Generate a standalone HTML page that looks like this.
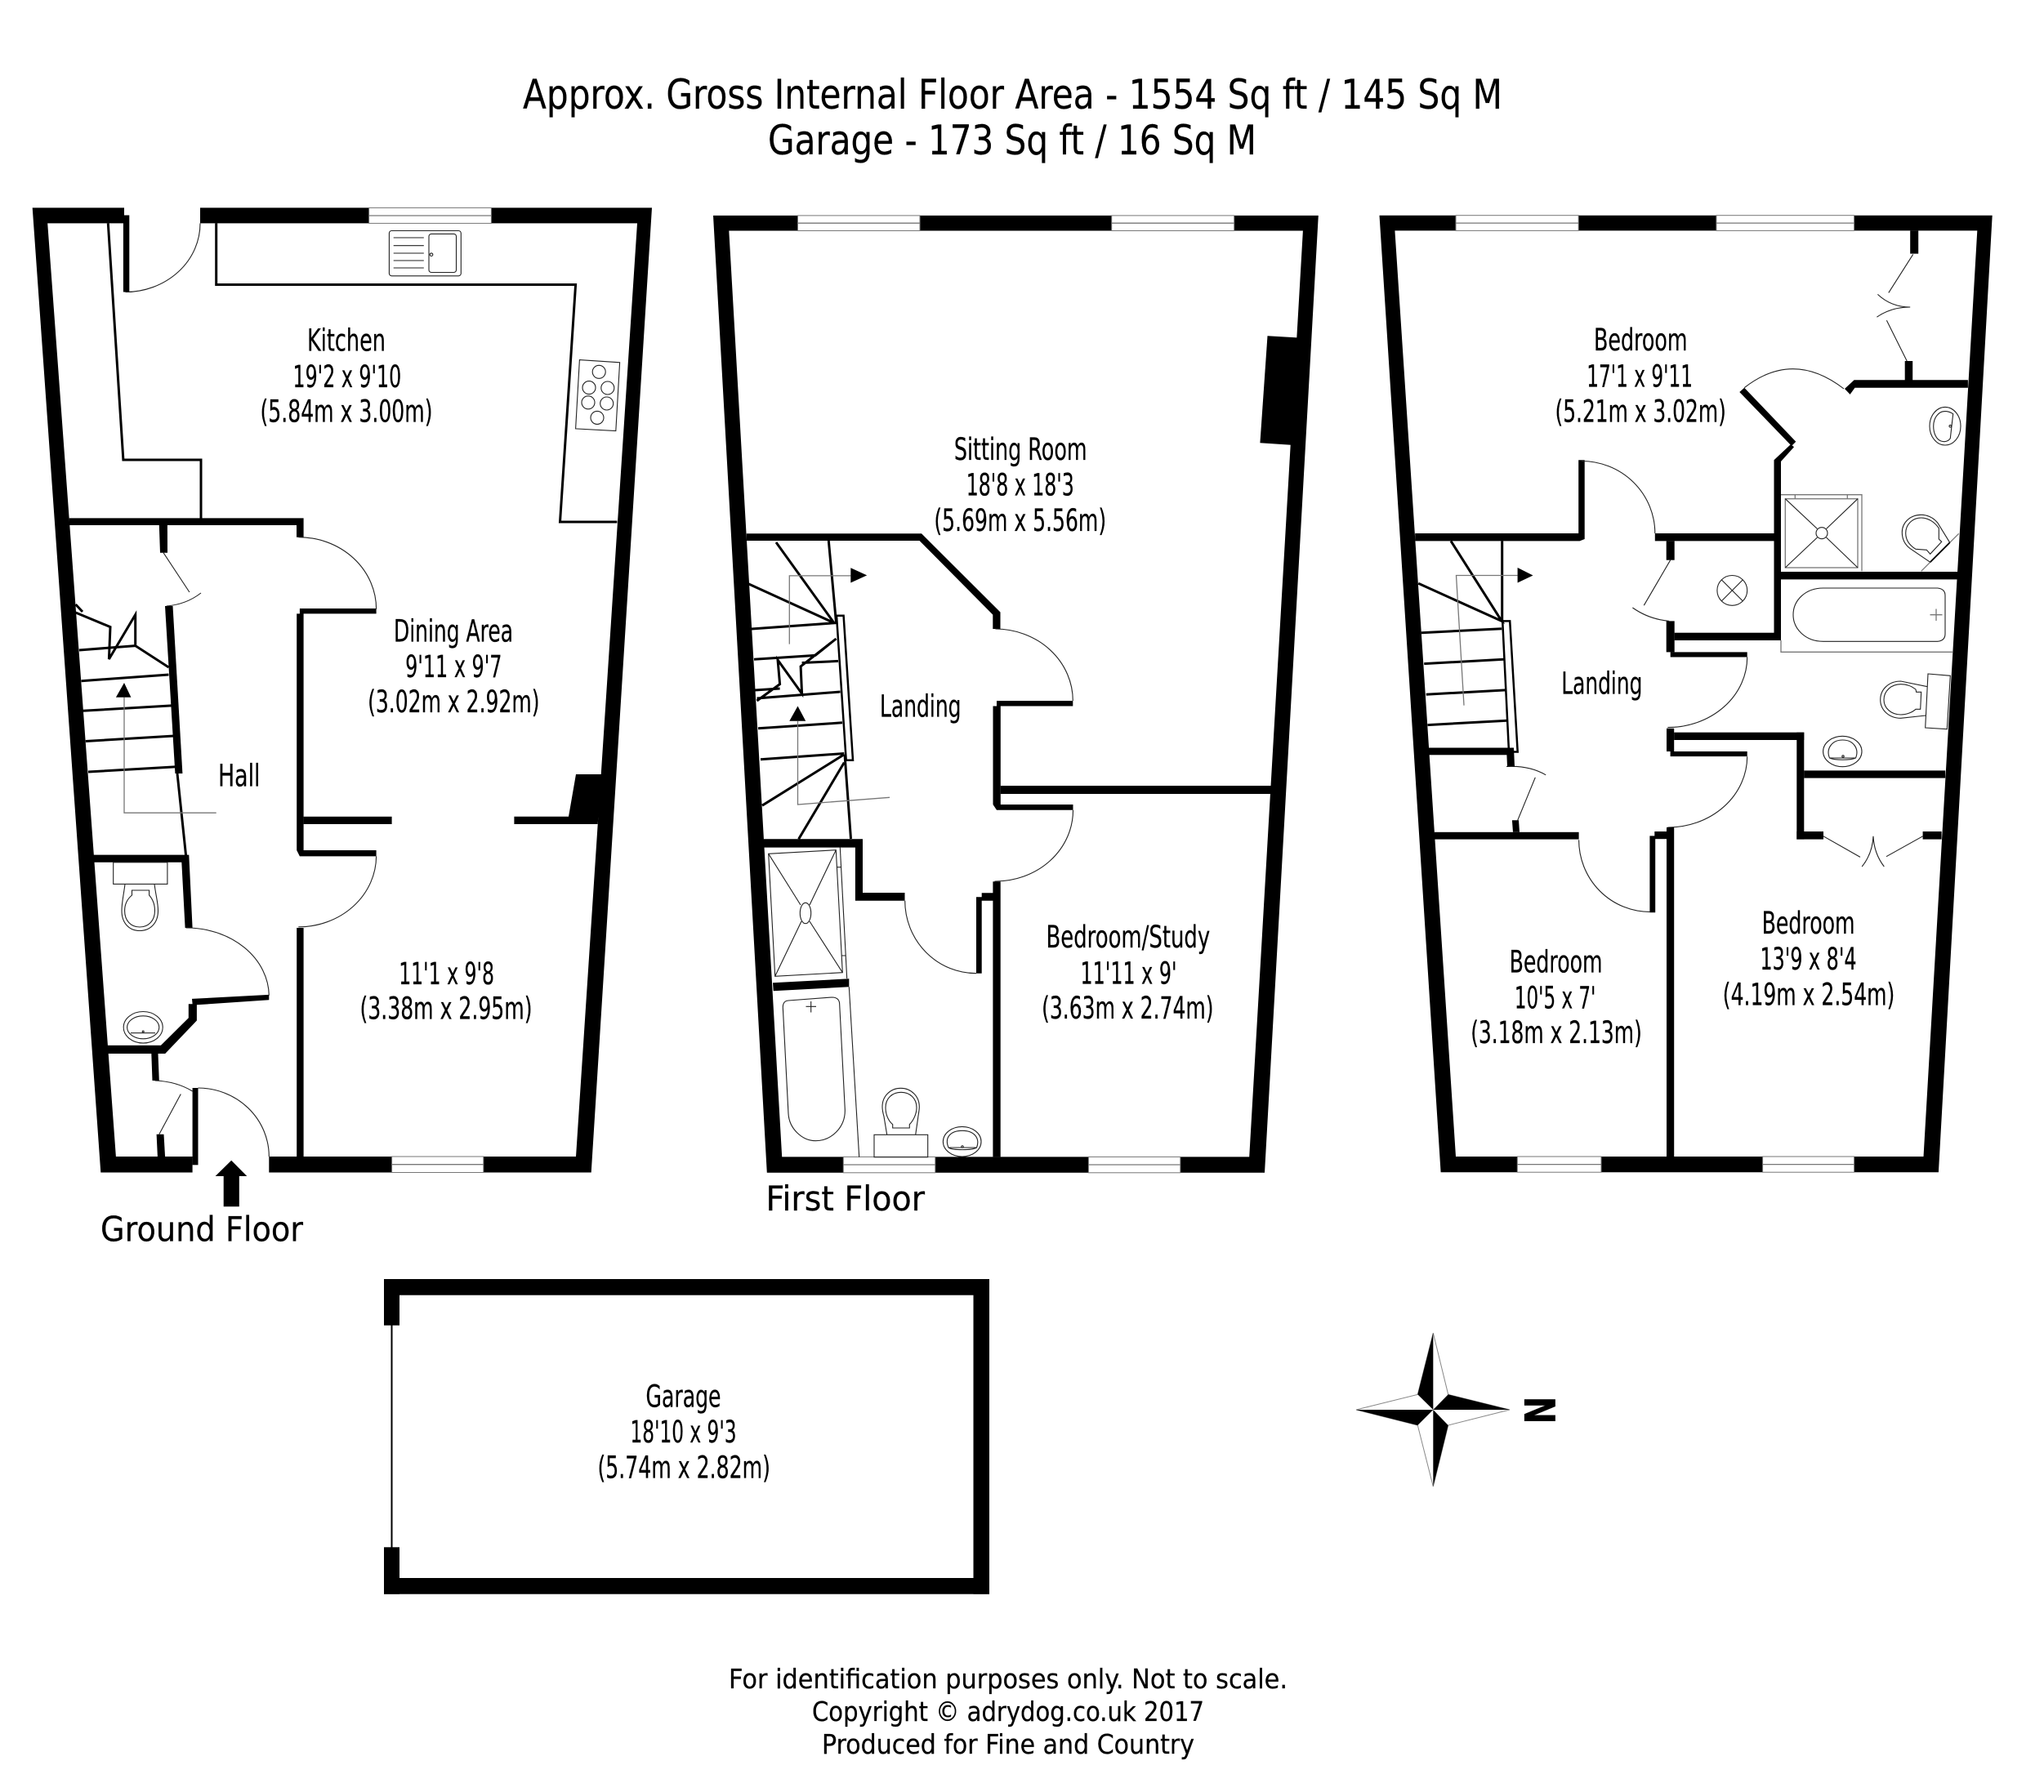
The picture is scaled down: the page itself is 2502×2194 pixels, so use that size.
<!DOCTYPE html>
<html lang="en">
<head>
<meta charset="utf-8">
<title>Floor plan</title>
<style>
html,body{margin:0;padding:0;background:#fff}
svg{display:block}
text{font-family:"DejaVu Sans","Liberation Sans",sans-serif;fill:#000;stroke:#000;stroke-width:.25}
.r{font-size:37px}
.f{font-size:42px}
.h{font-size:50px}
.c{font-size:33px}
.l3{fill:none;stroke:#000;stroke-width:3}
.l4{fill:none;stroke:#000;stroke-width:4}
.t{fill:none;stroke:#222;stroke-width:1.1}
.g{fill:none;stroke:#777;stroke-width:1.3}
.win{fill:#fff;stroke:#777;stroke-width:1}
</style>
</head>
<body>
<svg xmlns="http://www.w3.org/2000/svg" width="2502" height="2194" viewBox="0 0 2502 2194">
<rect width="2502" height="2194" fill="#fff"/>

<!-- Title -->
<text class="h" x="640" y="133" textLength="1199" lengthAdjust="spacingAndGlyphs">Approx. Gross Internal Floor Area - 1554 Sq ft / 145 Sq M</text>
<text class="h" x="940" y="189" textLength="598" lengthAdjust="spacingAndGlyphs">Garage - 173 Sq ft / 16 Sq M</text>

<!-- GROUND FLOOR -->
<g>
<polygon points="39.7,254.4 123.3,1435.5 235.6,1435.5 235.6,1416 141.9,1416 58.2,273.4 152,273.4 152,254.4"/>
<polygon points="245,254.4 798,254.4 723.7,1435.5 329.3,1435.5 329.3,1416 705,1416 780,273.4 245,273.4"/>
<rect class="win" x="451.6" y="254.4" width="149.8" height="19"/><path class="g" d="M451.6 264H601.4"/>
<rect class="win" x="479.6" y="1416" width="112.2" height="19.5"/><path class="g" d="M479.6 1425.7H591.8"/>
<rect x="150.9" y="263.5" width="7.4" height="94"/>
<!-- cross walls -->
<polygon points="84.7,634.4 371.6,634.4 371.6,657.7 363,657.7 363,643 84.7,643"/>
<polygon points="366.9,745 460.6,745 460.6,751.4 371.6,751.4 371.6,1041 460.6,1041 460.6,1048.4 366.9,1048.4 363.2,1041 363.2,751.4 366.9,751.4"/>
<rect x="371.6" y="999.8" width="108" height="9.2"/>
<polygon points="705,948 738,948 731.6,1009 629.4,1009 629.4,999.8 696,999.8"/>
<rect x="363.2" y="1136" width="8.4" height="280"/>
<polygon points="194.8,643 204.9,643 205,676.7 196,676.7"/>
<polygon points="202,742 211.5,742 223.4,947 214.4,947"/>
<polygon points="113.8,1046.6 231.3,1046.6 235.6,1136 226.6,1136 222.3,1055.8 113.8,1055.8"/>
<polygon points="329.3,1217.9 235,1222.9 235.6,1229.3 230.8,1229.3 230.8,1246.3 196.9,1279.9 131.3,1279.9 132.3,1290 202.2,1290 240.9,1249.5 240.9,1230.3 329.3,1224.3"/>
<polygon points="185.3,1290 193.5,1290 194.8,1323 186.5,1323"/>
<polygon points="191.6,1388.7 200.5,1388.7 202.2,1418.5 193,1418.5"/>
<rect x="235.6" y="1332" width="6.9" height="94.3"/>
<!-- arrow -->
<polygon points="283.2,1420.8 263.6,1440 273.7,1440 273.7,1477.3 292.8,1477.3 292.8,1440 302.3,1440"/>
<!-- kitchen counter -->
<path class="l3" d="M132.3 273.4L150.9 563H246V635"/>
<path class="l3" d="M264.7 273.4V348.5H704.6L685.5 639H755.4"/>
<path class="l3" d="M217 947L227.6 1047.5"/>
<!-- doors -->
<path class="t" d="M245 273.4A92 84 0 0 1 153.5 357.6"/>
<path class="t" d="M365.3 657.7A95 88 0 0 1 460.6 745.9"/>
<path class="t" d="M460.6 1048.4A95 87 0 0 1 365.3 1134.8"/>
<path class="t" d="M227.6 1136A101 84 0 0 1 329.3 1218.8"/>
<path class="t" d="M242.5 1332A87 84 0 0 1 329.3 1416"/>
<path class="t" d="M200 676.7L231.9 725M246 726Q228 740 203.8 742"/>
<path class="t" d="M189.5 1323Q216 1324 235.6 1336M221.3 1339.5L194.8 1388.7"/>
<!-- sink -->
<rect class="t" x="476.4" y="282.5" width="87.9" height="55.3" rx="3"/>
<rect class="t" x="525" y="286.4" width="33.5" height="47.1" rx="3"/>
<path class="t" d="M481.7 291H518.8M481.7 300.7H518.8M481.7 310H518.8M481.7 319H518.8M481.7 328H518.8"/>
<circle class="t" cx="528" cy="311.7" r="1.8"/>
<!-- hob -->
<polygon class="t" points="709.4,440.6 758.6,443.8 753.8,527.6 704.6,524.9"/>
<circle class="t" cx="733.2" cy="455.3" r="8"/><circle class="t" cx="721" cy="474.6" r="8"/><circle class="t" cx="743.8" cy="475" r="8"/>
<circle class="t" cx="720" cy="492.8" r="8"/><circle class="t" cx="742.7" cy="494" r="8"/><circle class="t" cx="731" cy="511.4" r="8"/>
<!-- stairs -->
<path class="l3" d="M101.6 870.3L210.2 863.9M104.8 907.5L212.8 901M108 945L216 938.7M99.5 833.7L206.5 826M96.9 796L165.7 790.6"/>
<path class="l3" d="M92.6 740L101 749M92.6 750L135 767.6L133.4 807L165.7 752.6V790.6L206.5 817"/>
<path class="g" d="M264.7 995.2H152V853.8"/>
<polygon points="152,836 141.9,853.8 160.4,853.8"/>
<!-- WC -->
<rect class="t" x="138.7" y="1055.8" width="66.2" height="26.6"/>
<path class="t" d="M153 1082.4C151 1098 149 1105 149 1115C149 1130 158 1139.5 171 1139.5C184 1139.5 193.5 1130 193.5 1115C193.5 1105 191 1098 189 1082.4"/>
<path class="t" d="M161.5 1096V1090H182.6V1096C187 1101 189.5 1107 189.5 1115C189.5 1127 182 1135 171 1135C160 1135 152.6 1127 152.6 1115C152.6 1107 155.5 1101 161.5 1096Z"/>
<ellipse class="t" cx="175.2" cy="1257.8" rx="24" ry="19.3"/>
<ellipse class="t" cx="175.2" cy="1257.8" rx="19.6" ry="14"/>
<path class="t" d="M160 1264.7H190"/><circle class="t" cx="175.2" cy="1263" r="1"/>
<!-- labels -->
<text class="r" x="376" y="429.6" textLength="96" lengthAdjust="spacingAndGlyphs">Kitchen</text>
<text class="r" x="358.5" y="473.9" textLength="132.700" lengthAdjust="spacingAndGlyphs">19'2 x 9'10</text>
<text class="r" x="318.5" y="516.6" textLength="211" lengthAdjust="spacingAndGlyphs">(5.84m x 3.00m)</text>
<text class="r" x="482" y="785.4" textLength="146" lengthAdjust="spacingAndGlyphs">Dining Area</text>
<text class="r" x="496.1" y="829" textLength="118.4" lengthAdjust="spacingAndGlyphs">9'11 x 9'7</text>
<text class="r" x="450.1" y="872" textLength="210.4" lengthAdjust="spacingAndGlyphs">(3.02m x 2.92m)</text>
<text class="r" x="267" y="962.6" textLength="51.5" lengthAdjust="spacingAndGlyphs">Hall</text>
<text class="r" x="488.2" y="1205" textLength="116.8" lengthAdjust="spacingAndGlyphs">11'1 x 9'8</text>
<text class="r" x="440.5" y="1247.7" textLength="211" lengthAdjust="spacingAndGlyphs">(3.38m x 2.95m)</text>
<text class="f" x="123" y="1519.5" textLength="248" lengthAdjust="spacingAndGlyphs">Ground Floor</text>
</g>

<!-- FIRST FLOOR -->
<g>
<path fill-rule="evenodd" d="M873 263.9H1613.8L1548 1435.8H938.8ZM892.3 282.5L957.2 1416.4H1529.2L1594.9 282.5Z"/>
<rect class="win" x="976.5" y="263.9" width="149.5" height="18.6"/><path class="g" d="M976.5 273.2H1126"/>
<rect class="win" x="1360.7" y="263.9" width="150" height="18.6"/><path class="g" d="M1360.7 273.2H1510.7"/>
<rect class="win" x="1032.3" y="1416.4" width="112.5" height="19.4"/><path class="g" d="M1032.3 1426H1144.8"/>
<rect class="win" x="1332.4" y="1416.4" width="112.4" height="19.4"/><path class="g" d="M1332.4 1426H1444.8"/>
<polygon points="1551.5,411.3 1590,413.5 1582,544.9 1542.4,542.3"/>
<polygon points="913.8,653.3 1128,653.3 1224.5,749.5 1224.5,770 1215.3,770 1215.3,752.6 1125.5,662 913.8,662"/>
<polygon points="1220,858 1313.3,858 1313.3,864.5 1224.8,864.5 1224.8,985 1313.5,985 1313.5,991.7 1220,991.7 1215.5,985 1215.5,864.5 1220,864.5"/>
<rect x="1224.8" y="962" width="331" height="10"/>
<rect x="1215.4" y="1079.3" width="9.3" height="337.1"/>
<polygon points="1195,1098.3 1201.7,1098.3 1201.7,1093.3 1216,1093.3 1216,1102.7 1201.7,1102.7 1201.7,1191.7 1195,1191.7"/>
<polygon points="934.9,1027.3 1056,1027.3 1056,1093 1107.5,1093 1107.5,1102.7 1046.9,1102.7 1046.9,1037.6 934.9,1037.6"/>
<polygon points="946,1203.3 1039.3,1198.3 1039.3,1208.3 946.7,1213.3"/>
<!-- doors -->
<path class="t" d="M1218.4 770A95 88 0 0 1 1313.3 858"/>
<path class="t" d="M1313.5 991.7A95 87 0 0 1 1217.5 1079"/>
<path class="t" d="M1195 1191.7A87 89 0 0 1 1107.7 1102.7"/>
<!-- stairs -->
<path class="l3" d="M1014.3 662L1023.5 762M1034 923.7L1041.5 1027"/>
<path class="l3" d="M950 664L1020.9 762.6M916.3 714.9L1020.9 762.6M919.9 770L1023.5 762.6M923 807.2L998 802.4L1023.5 782L980.1 815.9L981.6 849.3L952 808L954.6 837.6L926.5 858M981.6 811.5L1026 809.4M924 845L954.6 843M926.5 855L1028.6 847M928 891.8L1031 884.8M931 929.7L1033.3 922.5M933 986.2L1033.3 923.7M977.6 1027.3L1033.3 933.6"/>
<path fill="none" stroke="#000" stroke-width="2.5" d="M1024 753.8H1032.6L1044 930.8H1035.7Z"/>
<path class="g" d="M966.3 788.6V704.9H1041.3"/>
<polygon points="1041.3,695.3 1041.3,713.5 1061.2,704.4"/>
<polygon points="976.5,864.5 966.3,882.7 986.2,882.7"/>
<path class="g" d="M976.5 882.7V985L1089 976.3"/>
<!-- shower -->
<path class="t" d="M1028.3 1037.3L1036.7 1198"/>
<polygon class="t" points="940.7,1045.3 1023.3,1040.7 1031.3,1190.7 948.7,1195.3"/>
<ellipse class="t" cx="986" cy="1118" rx="6.7" ry="12.7"/>
<path class="t" d="M940.7 1045.3L980 1108M1023.3 1040.7L991 1108M1031.3 1190.7L991 1128M948.7 1195.3L981 1128"/>
<path class="t" d="M1024 1061.7H1029M1030 1170H1035"/>
<!-- bath -->
<path class="t" d="M1039.3 1208.3L1051.7 1416.7"/>
<path class="t" d="M958.3 1233.3Q958.3 1225.5 965 1225L1018.3 1221Q1027.700 1221 1027.700 1230L1034.3 1358.3C1035 1380 1018 1396.700 998.3 1396.700C982 1396.700 966 1382 965 1363.3Z"/>
<path class="t" d="M986.500 1232.300H999M992.700 1226V1239.500"/>
<!-- wc -->
<rect class="t" x="1070" y="1389.300" width="65.700" height="27.400"/>
<path class="t" d="M1085.700 1389.300L1082 1367C1080 1360 1080 1355 1080 1355C1080 1342 1090 1332.300 1102.600 1332.300C1115 1332.300 1125.300 1342 1125.300 1355C1125.300 1360 1124 1365 1123.500 1370L1120.700 1389.300"/>
<path class="t" d="M1092.700 1381V1376.700C1087 1372 1084 1364 1084 1356C1084 1345 1092 1337.300 1103 1337.300C1114 1337.300 1122 1345 1122 1356C1122 1364 1118 1372 1113.300 1376.700V1381Z"/>
<ellipse class="t" cx="1177.700" cy="1397.700" rx="23.300" ry="18.300"/>
<path class="t" d="M1161 1405C1156 1393 1163 1384.300 1178 1384.300C1192 1384.300 1200 1393 1195.500 1405C1190 1408.500 1166 1408.500 1161 1405Z"/>
<path class="t" d="M1161 1405H1195.500"/>
<circle class="t" cx="1178" cy="1404" r="1.200"/>
<!-- labels -->
<text class="r" x="1167.900" y="563" textLength="162.700" lengthAdjust="spacingAndGlyphs">Sitting Room</text>
<text class="r" x="1182.700" y="606.400" textLength="132.100" lengthAdjust="spacingAndGlyphs">18'8 x 18'3</text>
<text class="r" x="1143.400" y="649.800" textLength="210.700" lengthAdjust="spacingAndGlyphs">(5.69m x 5.56m)</text>
<text class="r" x="1077" y="877.500" textLength="99.500" lengthAdjust="spacingAndGlyphs">Landing</text>
<text class="r" x="1280.500" y="1160" textLength="200.700" lengthAdjust="spacingAndGlyphs">Bedroom/Study</text>
<text class="r" x="1322.500" y="1204.500" textLength="118" lengthAdjust="spacingAndGlyphs">11'11 x 9'</text>
<text class="r" x="1275.100" y="1247" textLength="210.400" lengthAdjust="spacingAndGlyphs">(3.63m x 2.74m)</text>
<text class="f" x="937.500" y="1482" textLength="194.500" lengthAdjust="spacingAndGlyphs">First Floor</text>
</g>

<!-- SECOND FLOOR -->
<g>
<path fill-rule="evenodd" d="M1688.500 263.700H2438.700L2372.900 1435.200H1763.600ZM1707.400 282.400L1782 1416H2354.500L2420.300 282.400Z"/>
<rect class="win" x="1782" y="263.700" width="150.200" height="18.700"/><path class="g" d="M1782 273.100H1932.200"/>
<rect class="win" x="2100.900" y="263.700" width="168.700" height="18.700"/><path class="g" d="M2100.900 273.100H2269.600"/>
<rect class="win" x="1857.300" y="1416" width="102.700" height="19.200"/><path class="g" d="M1857.300 1425.600H1960"/>
<rect class="win" x="2157.600" y="1416" width="112" height="19.200"/><path class="g" d="M2157.600 1425.600H2269.600"/>
<!-- wardrobe -->
<rect x="2338.200" y="282.400" width="10" height="28.200"/>
<rect x="2331.700" y="442" width="9.500" height="25"/>
<path class="t" d="M2341.700 311.400L2311.800 358.400M2298.400 360.400Q2315 376 2338.200 376Q2315 376 2297.400 388.200M2309.400 392.200L2334.200 442"/>
<!-- en-suite -->
<polygon points="2269.600,465.300 2408.900,465.300 2408.900,474.700 2270.500,474.700 2264.600,482.900 2258,476"/>
<path class="t" d="M2135.200 474.700Q2195 428 2257 476"/>
<polygon points="2129.300,480 2135.200,474.700 2198.300,540.700 2193,546"/>
<polygon points="2192,544 2196,547.300 2180,565 2180,784 2171.500,784 2171.500,563.300"/>
<polygon points="1732.200,653 1932.200,653 1932.200,563.300 1939.700,563.300 1939.700,660 1933.700,662.400 1732.200,662.400"/>
<polygon points="2025.800,653 2175,653 2175,662.400 2025.800,662.400"/>
<path class="t" d="M1936 564.500A90 88.500 0 0 1 2025.800 653"/>
<!-- closet -->
<rect x="2039.700" y="662.400" width="10" height="23.300"/>
<rect x="2039.700" y="760.400" width="10" height="38"/>
<rect x="2049.700" y="774.700" width="130.300" height="9.300"/>
<rect x="2044.700" y="798.400" width="94" height="6.100"/>
<path class="t" d="M2044.700 685.700L2012.300 741.200M1998.400 744Q2018 758 2043.200 760.400"/>
<ellipse class="t" cx="2120.300" cy="722.900" rx="18.400" ry="18.400"/>
<path class="t" d="M2107.300 709.900L2133.300 735.900M2133.300 709.900L2107.300 735.900"/>
<path class="t" d="M2138.700 804.500A97 86 0 0 1 2041.400 890.600"/>
<rect x="2040" y="891.800" width="9.200" height="28.200"/>
<rect x="2049.200" y="896.700" width="159.100" height="9.300"/>
<rect x="2199.300" y="896.700" width="9" height="130.900"/>
<rect x="2199.300" y="1018" width="32.700" height="9.600"/>
<rect x="2353.600" y="1018" width="23" height="9.600"/>
<rect x="2208.300" y="943.400" width="172.900" height="9.200"/>
<rect x="2044.600" y="920" width="94.100" height="6.100"/>
<path class="t" d="M2138.700 926.200A97 87 0 0 1 2041.400 1013"/>
<rect x="2040" y="1013" width="9.200" height="403"/>
<rect x="2025.300" y="1018" width="14.700" height="9.200"/>
<rect x="2019.400" y="1023.400" width="6.800" height="93.800"/>
<path class="t" d="M2019.400 1116.400A87 88 0 0 1 1932.600 1028.400"/>
<rect x="1755.800" y="1018.800" width="176.800" height="8.800"/>
<polygon points="1850.900,1004.300 1859,1004.300 1860,1018.800 1852,1018.800"/>
<path class="t" d="M1857.700 1004.300L1879.300 951.800M1844 938.500Q1872 937 1892.200 948.800"/>
<polygon points="1844,915.500 1853,915.500 1854,938.500 1845,938.500"/>
<rect x="1748.500" y="915.500" width="104.500" height="8.800"/>
<!-- stairs -->
<path class="l3" d="M1838.700 662.400V760.400M1776 662.400L1838.200 760.400L1736.200 714.300M1739.700 774.700L1838.200 769.800M1743.200 812.600L1840.700 807.300M1745.700 850.200L1843.200 844.900M1747.500 887.600L1844.900 882.200"/>
<path fill="none" stroke="#000" stroke-width="2.500" d="M1839.200 760.400H1848.200L1857.700 920.500H1847Z"/>
<path class="g" d="M1792 863.700L1782.500 704.500H1857.600"/>
<polygon points="1857.600,695 1857.600,713.500 1876.500,704.500"/>
<!-- bathroom partition -->
<rect x="2175" y="700" width="221.400" height="9.400"/>
<path class="g" d="M2180 784V798.300H2390"/>
<path class="t" d="M2231.700 720H2371.700Q2381 721 2381 729V776Q2381 784.500 2371.700 785.300H2231.700C2210 785.300 2195 770 2195 752.700C2195 735 2210 720 2231.700 720Z"/>
<path class="g" d="M2362.500 752.700H2377.500M2370 745.500V760"/>
<!-- shower -->
<path class="g" d="M2180 605.700H2279V699.300"/>
<rect class="g" x="2185.300" y="610.700" width="88.700" height="84.300"/>
<circle class="t" cx="2230" cy="652.700" r="7"/>
<path class="t" d="M2185.300 610.700L2224.500 647.500M2274 610.700L2235.500 647.500M2185.300 695L2224.500 658M2274 695L2235.500 658"/>
<path class="g" d="M2197.300 605.700V610.700M2261.300 605.700V610.700"/>
<!-- en-suite wc & basin -->
<path class="g" d="M2351.700 699.300L2397.700 653.300"/>
<path fill="none" stroke="#000" stroke-width="1.800" d="M2362.700 688.300L2386.700 664.300"/>
<path class="t" d="M2386.700 664.300L2371.700 640C2366 633 2358 630.300 2351.700 630.300C2338 630.300 2328.300 640 2328.300 651.700C2328.300 660 2332 667 2338.300 671.700L2362.700 688.300"/>
<path class="t" d="M2376.700 663.300L2373.300 660V646.700C2368 639 2360 634 2351.700 634C2341 634 2332.700 642 2332.700 652.700C2332.700 662 2338 668 2345 672.300L2358.300 673.300L2362.700 678.300Z"/>
<ellipse class="t" cx="2381" cy="521.700" rx="19" ry="23.300"/>
<path class="t" d="M2390.700 506.700C2385 503 2379 502.700 2375 505C2369 509 2366.700 515 2366.700 522C2366.700 530 2370 538 2376 540C2381 541.500 2385 540 2387.300 536.700Z"/>
<circle class="t" cx="2387.300" cy="521.700" r="1.300"/>
<!-- bathroom wc & basin -->
<path class="t" d="M2360 825L2387.300 827.300L2383.300 892.700L2356.700 891Z"/>
<path class="t" d="M2359.300 840.700L2326.700 834C2312 834 2301.700 844 2301.700 856.700C2301.700 869 2312 879.300 2326.700 879.300L2357.300 876"/>
<path class="t" d="M2351.700 847.300H2345.700L2345 844C2340 840 2333 837.700 2326.700 837.700C2315 837.700 2306 846 2306 856.700C2306 867 2315 875 2326.700 875C2334 875 2341 872 2345 868.300H2350.700Z"/>
<ellipse class="t" cx="2255.300" cy="920" rx="23.700" ry="18.700"/>
<path class="t" d="M2239.500 928C2235 917 2242 906 2255.500 906C2269 906 2276 917 2271.500 928C2265 931 2246 931 2239.500 928Z"/>
<path class="t" d="M2239.500 928H2271.500"/>
<circle class="t" cx="2256" cy="926" r="1.200"/>
<!-- wardrobe lower -->
<path class="t" d="M2232 1023.800L2277 1049.400M2353.600 1023.800L2309 1048.700M2279.200 1061Q2292 1045 2293 1023.800Q2294 1045 2306.300 1061"/>
<!-- labels -->
<text class="r" x="1951" y="429" textLength="114.600" lengthAdjust="spacingAndGlyphs">Bedroom</text>
<text class="r" x="1942.200" y="473.500" textLength="129.800" lengthAdjust="spacingAndGlyphs">17'1 x 9'11</text>
<text class="r" x="1903.500" y="516.700" textLength="209.300" lengthAdjust="spacingAndGlyphs">(5.21m x 3.02m)</text>
<text class="r" x="1911.300" y="849.400" textLength="99.100" lengthAdjust="spacingAndGlyphs">Landing</text>
<text class="r" x="2156.600" y="1143.200" textLength="114" lengthAdjust="spacingAndGlyphs">Bedroom</text>
<text class="r" x="2154.500" y="1187.200" textLength="118" lengthAdjust="spacingAndGlyphs">13'9 x 8'4</text>
<text class="r" x="2108.800" y="1230.500" textLength="210.500" lengthAdjust="spacingAndGlyphs">(4.19m x 2.54m)</text>
<text class="r" x="1847.600" y="1190.300" textLength="114" lengthAdjust="spacingAndGlyphs">Bedroom</text>
<text class="r" x="1853.900" y="1234.300" textLength="99.500" lengthAdjust="spacingAndGlyphs">10'5 x 7'</text>
<text class="r" x="1800.200" y="1277" textLength="209.600" lengthAdjust="spacingAndGlyphs">(3.18m x 2.13m)</text>
</g>

<!-- GARAGE -->
<g>
<rect x="470" y="1566" width="741" height="19.700"/>
<rect x="470" y="1932" width="741" height="19.700"/>
<rect x="1191.500" y="1566" width="19.500" height="385.700"/>
<rect x="470" y="1566" width="19" height="56.700"/>
<rect x="470" y="1894.300" width="19" height="57.400"/>
<path fill="none" stroke="#000" stroke-width="2" d="M479.500 1622V1895"/>
<text class="r" x="790.500" y="1722.500" textLength="92" lengthAdjust="spacingAndGlyphs">Garage</text>
<text class="r" x="771.500" y="1766" textLength="130" lengthAdjust="spacingAndGlyphs">18'10 x 9'3</text>
<text class="r" x="731.500" y="1809.500" textLength="211.400" lengthAdjust="spacingAndGlyphs">(5.74m x 2.82m)</text>
</g>

<!-- COMPASS -->
<g>
<polygon fill="#fff" stroke="#888" stroke-width="1" points="1754.300,1632 1772.700,1707.300 1848,1726 1772.700,1745 1754.300,1820 1735.300,1745 1660,1726 1735.300,1707.300"/>
<polygon points="1754.300,1632 1735.300,1707.300 1754.300,1726"/>
<polygon points="1772.700,1707.300 1848,1726 1754.300,1726"/>
<polygon points="1660,1726 1754.300,1726 1735.300,1745"/>
<polygon points="1754.300,1726 1772.700,1745 1754.300,1820"/>
<text x="0" y="0" font-size="52" font-weight="bold" textLength="34" lengthAdjust="spacingAndGlyphs" transform="translate(1866,1709.600) rotate(90)">N</text>
</g>

<!-- FOOTER -->
<text class="c" x="892" y="2067" textLength="684" lengthAdjust="spacingAndGlyphs">For identification purposes only. Not to scale.</text>
<text class="c" x="994" y="2107" textLength="480" lengthAdjust="spacingAndGlyphs">Copyright © adrydog.co.uk 2017</text>
<text class="c" x="1006" y="2147" textLength="456" lengthAdjust="spacingAndGlyphs">Produced for Fine and Country</text>
</svg>
</body>
</html>
